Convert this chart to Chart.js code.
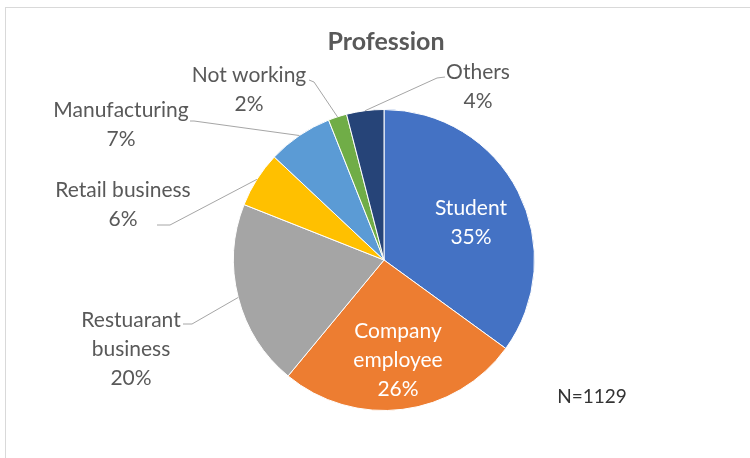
<!DOCTYPE html>
<html>
<head>
<meta charset="utf-8">
<script src="https://cdn.jsdelivr.net/npm/chart.js@4.4.0/dist/chart.umd.min.js"></script>
<style>
  html, body { margin: 0; padding: 0; background: #fff; overflow: hidden; }
</style>
</head>
<body>
<canvas id="grafico" width="750" height="458"></canvas>
<script>
const categorias = ['Student', 'Company employee', 'Restuarant business', 'Retail business', 'Manufacturing', 'Not working', 'Others'];
const valores = [35, 26, 20, 6, 7, 2, 4];
const cores = ['#4472C4', '#ED7D31', '#A5A5A5', '#FFC000', '#5B9BD5', '#70AD47', '#264478'];
const titulo = 'Profession';
const nota = 'N=1129';

// label layout: text lines, centre of first line, leader line start (outside labels only)
const rotulos = [
  { linhas: ['Student'], x: 471, y: 208, dentro: true },
  { linhas: ['Company', 'employee'], x: 398, y: 331, dentro: true },
  { linhas: ['Restuarant', 'business'], x: 131, y: 320, linha: [[183, 324], [192, 324]] },
  { linhas: ['Retail business'], x: 123, y: 190, linha: [[157, 225], [170, 225]] },
  { linhas: ['Manufacturing'], x: 121, y: 110, linha: [[190, 121], [194, 121]] },
  { linhas: ['Not working'], x: 249, y: 75, linha: [[309, 80], [314, 82]] },
  { linhas: ['Others'], x: 478, y: 72, linha: [[445, 77], [437, 78]] }
];
const alturaLinha = 29;
const fonte = 'Lato, "Open Sans", sans-serif';

const total = valores.reduce((a, b) => a + b, 0);

const moldura = {
  id: 'moldura',
  beforeDraw(chart) {
    const ctx = chart.ctx;
    ctx.save();
    ctx.fillStyle = '#fff';
    ctx.fillRect(0, 0, chart.width, chart.height);
    ctx.strokeStyle = '#d9d9d9';
    ctx.lineWidth = 1;
    ctx.strokeRect(5.5, 7.5, chart.width + 20, chart.height + 20);
    ctx.restore();
  }
};

const rotulosPlugin = {
  id: 'rotulos',
  afterDatasetsDraw(chart) {
    const ctx = chart.ctx;
    const arcos = chart.getDatasetMeta(0).data;
    ctx.save();
    ctx.textAlign = 'center';
    ctx.textBaseline = 'middle';
    arcos.forEach((arco, i) => {
      const r = rotulos[i];
      const p = arco.getProps(['x', 'y', 'startAngle', 'endAngle', 'outerRadius'], true);
      const meio = (p.startAngle + p.endAngle) / 2;
      const ax = p.x + Math.cos(meio) * p.outerRadius;
      const ay = p.y + Math.sin(meio) * p.outerRadius;
      if (!r.dentro) {
        ctx.strokeStyle = '#a6a6a6';
        ctx.lineWidth = 1;
        ctx.beginPath();
        ctx.moveTo(r.linha[0][0], r.linha[0][1]);
        ctx.lineTo(r.linha[1][0], r.linha[1][1]);
        ctx.lineTo(ax, ay);
        ctx.stroke();
      }
      const pct = Math.round(valores[i] / total * 100) + '%';
      const linhas = r.linhas.concat([pct]);
      ctx.fillStyle = r.dentro ? '#ffffff' : '#595959';
      ctx.font = '21px ' + fonte;
      linhas.forEach((t, k) => ctx.fillText(t, r.x, r.y + k * alturaLinha));
    });
    // title and sample size
    ctx.fillStyle = '#595959';
    ctx.font = 'bold 25px ' + fonte;
    ctx.fillText(titulo, 386, 42);
    ctx.fillStyle = '#333333';
    ctx.font = '19px ' + fonte;
    ctx.fillText(nota, 592, 397);
    ctx.restore();
  }
};

new Chart(document.getElementById('grafico').getContext('2d'), {
  type: 'pie',
  data: {
    labels: categorias,
    datasets: [{
      data: valores,
      backgroundColor: cores,
      borderColor: '#ffffff',
      borderWidth: 1
    }]
  },
  options: {
    responsive: false,
    animation: false,
    layout: { padding: { left: 233, right: 215, top: 109, bottom: 47 } },
    plugins: {
      legend: { display: false },
      tooltip: { enabled: false },
      title: { display: false }
    }
  },
  plugins: [moldura, rotulosPlugin]
});
</script>
</body>
</html>
